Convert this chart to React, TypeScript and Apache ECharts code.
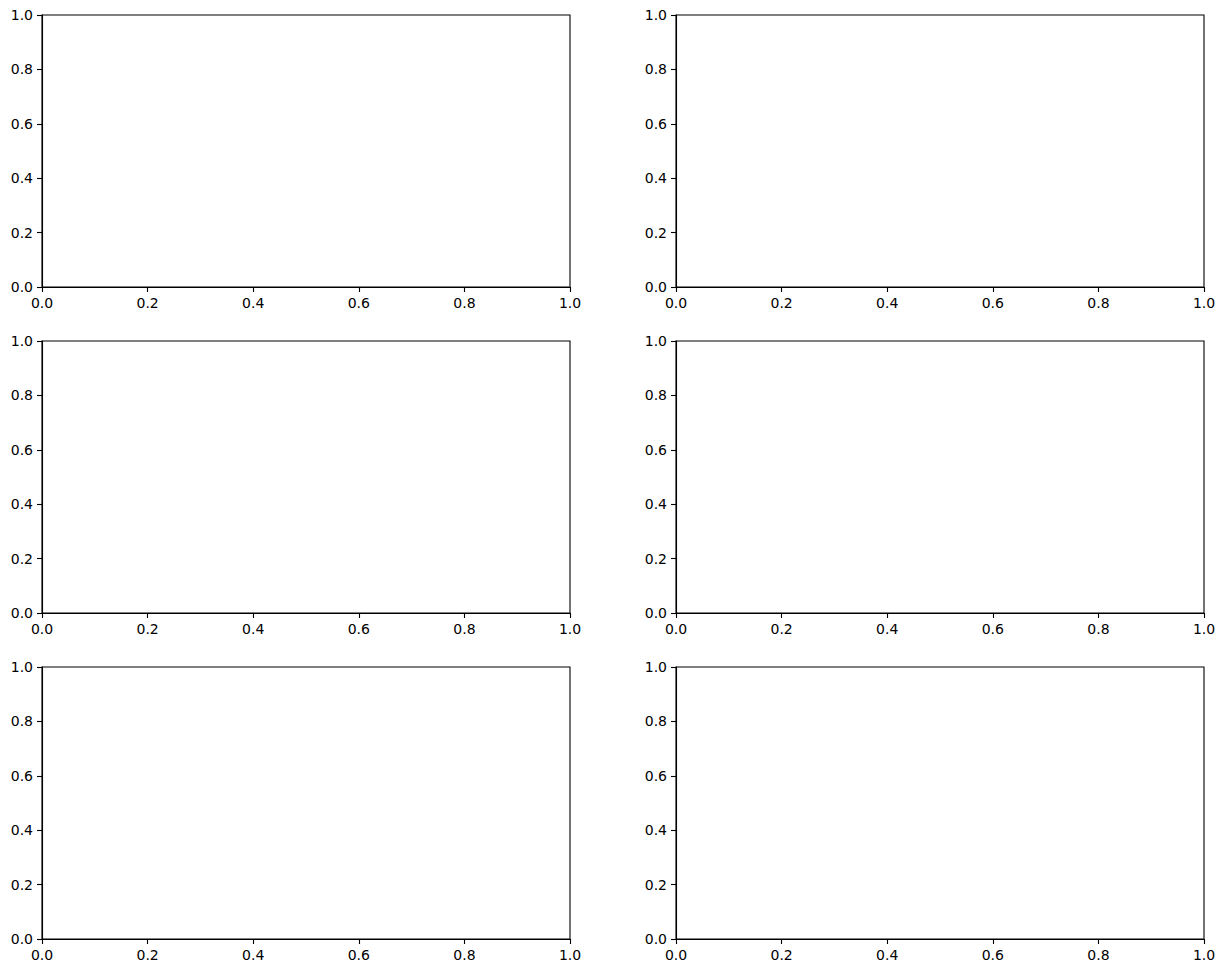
import React, { useEffect, useRef } from "react";
import * as echarts from "echarts";

const tickValues = [0, 0.2, 0.4, 0.6, 0.8, 1.0];
const tickLabels = ["0.0", "0.2", "0.4", "0.6", "0.8", "1.0"];
const emptyData: number[][] = [];

const rowsTop = [15, 341, 667];
const colsLeft = [42, 676];
const gridW = 528;
const gridH = 272;

export default function App() {
  const ref = useRef<HTMLDivElement>(null);
  useEffect(() => {
    if (!ref.current) return;
    const chart = echarts.init(ref.current, undefined, { renderer: "svg" });
    const grids: any[] = [];
    const xAxes: any[] = [];
    const yAxes: any[] = [];
    const series: any[] = [];
    const fmt = (v: number) => {
      const i = tickValues.findIndex((t) => Math.abs(t - v) < 1e-9);
      return i >= 0 ? tickLabels[i] : v.toFixed(1);
    };
    const axisCommon = {
      type: "value",
      min: 0,
      max: 1,
      interval: 0.2,
      splitLine: { show: false },
      axisLine: { show: true, onZero: false, lineStyle: { color: "#000", width: 1.1 } },
      axisTick: { show: true, inside: false, length: 5, lineStyle: { color: "#000", width: 1.1 } },
      axisLabel: {
        color: "#000",
        fontSize: 14,
        fontFamily: "DejaVu Sans",
        formatter: fmt,
        showMinLabel: true,
        showMaxLabel: true,
      },
    };
    let idx = 0;
    for (const top of rowsTop) {
      for (const left of colsLeft) {
        grids.push({
          left,
          top,
          width: gridW,
          height: gridH,
          show: true,
          borderColor: "#000",
          borderWidth: 1.1,
          backgroundColor: "transparent",
          containLabel: false,
        });
        xAxes.push({
          ...axisCommon,
          gridIndex: idx,
          position: "bottom",
          axisLabel: { ...axisCommon.axisLabel, margin: 9 },
        });
        yAxes.push({
          ...axisCommon,
          gridIndex: idx,
          position: "left",
          axisLabel: { ...axisCommon.axisLabel, margin: 9 },
        });
        series.push({
          type: "scatter",
          xAxisIndex: idx,
          yAxisIndex: idx,
          data: emptyData,
        });
        idx++;
      }
    }
    chart.setOption({
      animation: false,
      backgroundColor: "#fff",
      grid: grids,
      xAxis: xAxes,
      yAxis: yAxes,
      series,
    });
    return () => chart.dispose();
  }, []);
  return (
    <div
      ref={ref}
      style={{ position: "absolute", left: 0, top: 0, width: 1225, height: 973 }}
    />
  );
}
